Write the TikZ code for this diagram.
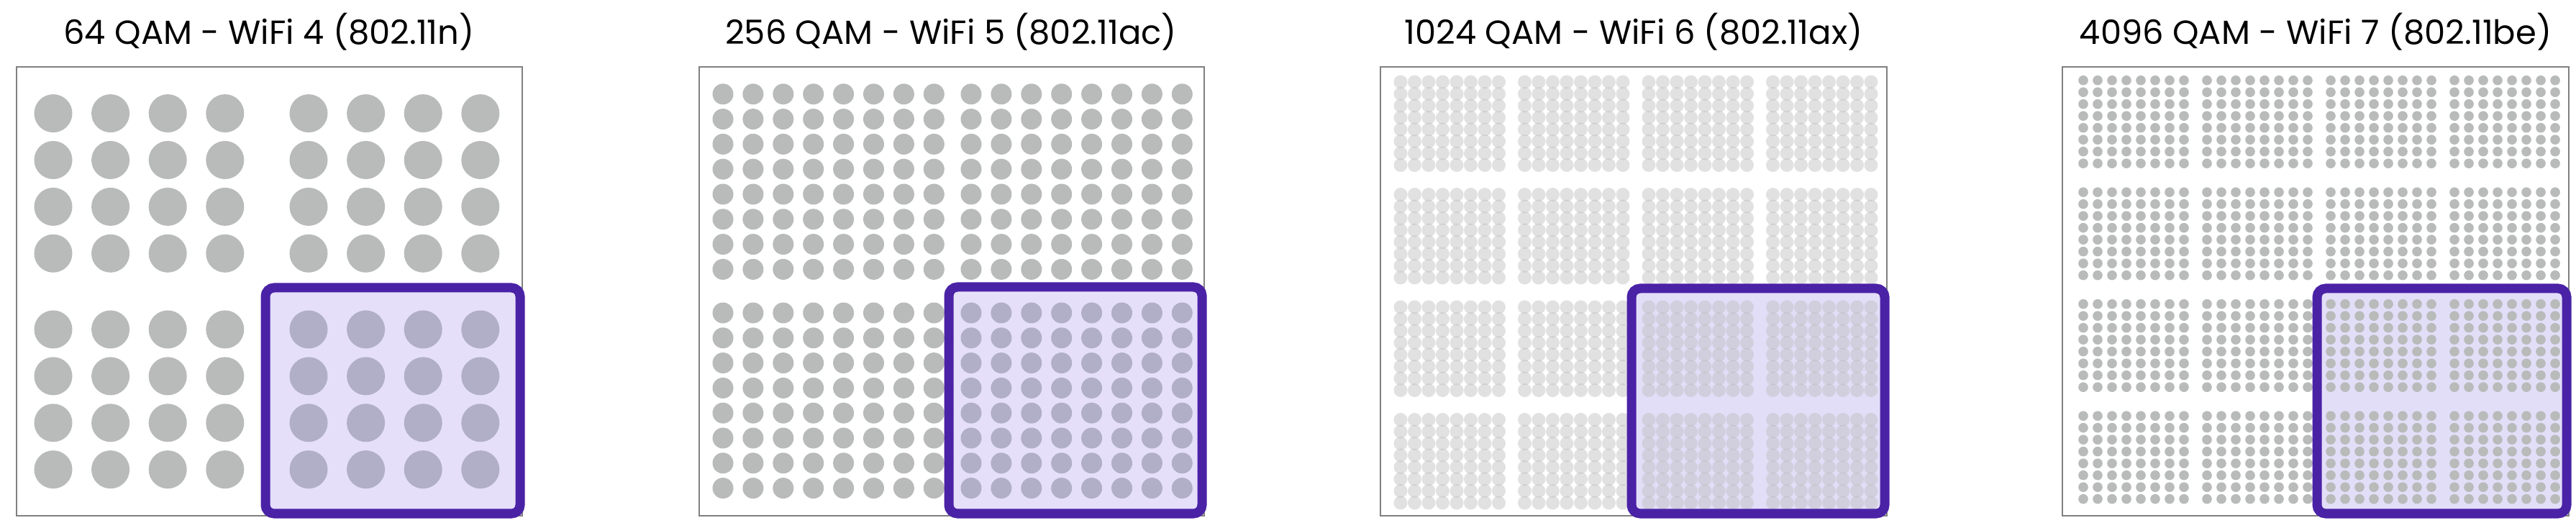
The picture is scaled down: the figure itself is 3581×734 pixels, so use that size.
\documentclass[tikz,border=0pt]{standalone}
\usepackage{fontspec}
\setmainfont{Poppins}
\definecolor{dotgray}{HTML}{B8BBBA}
\definecolor{blurgray}{HTML}{BDBEBE}
\definecolor{hlpurple}{HTML}{4A22A6}
\definecolor{hlfill}{HTML}{A08CF0}
\definecolor{hlsolid}{HTML}{E3DEF8}
\definecolor{framegray}{HTML}{808080}
\tikzset{
  frame/.style={draw=framegray, line width=0.02cm},
  hlborder/.style={draw=hlpurple, line width=0.13cm, rounded corners=0.12cm},
  title/.style={font=\fontsize{13.2pt}{15pt}\selectfont, text=black, inner sep=0pt}
}
\begin{document}
\begin{tikzpicture}[x=0.01cm,y=-0.01cm]
\useasboundingbox[fill=white] (0,0) rectangle (3581,734);
% titles
\node[title] (t1) at (374,44) {64 QAM - WiFi 4 (802.11n)};
\node[title] (t2) at (1322,44) {256 QAM - WiFi 5 (802.11ac)};
\node[title] (t3) at (2271,44) {1024 QAM - WiFi 6 (802.11ax)};
\node[title] (t4) at (3219,44) {4096 QAM - WiFi 7 (802.11be)};
% frames
\draw[frame] (23,93) rectangle (726,717);
\draw[frame] (972,93) rectangle (1674,717);
\draw[frame] (1919,93) rectangle (2623,717);
\draw[frame] (2867,93) rectangle (3571,717);
% panel 1
\foreach \qx in {74,429} \foreach \qy in {157.6,458} \foreach \i in {0,...,3} \foreach \j in {0,...,3}
  \fill[dotgray] ({\qx+79.6*\i},{\qy+64.9*\j}) circle[radius=0.265cm];
\fill[hlfill, fill opacity=0.27, rounded corners=0.12cm] (369,400) rectangle (723,714);
\draw[hlborder] (369,400) rectangle (723,714);
% panel 2
\foreach \qx in {1005,1350} \foreach \qy in {130.8,435} \foreach \i in {0,...,7} \foreach \j in {0,...,7}
  \fill[dotgray] ({\qx+41.9*\i},{\qy+34.8*\j}) circle[radius=0.145cm];
\fill[hlfill, fill opacity=0.27, rounded corners=0.12cm] (1319,399) rectangle (1671,714);
\draw[hlborder] (1319,399) rectangle (1671,714);
% panel 3 (blurred)
\fill[hlsolid, rounded corners=0.12cm] (2268,401) rectangle (2620,714);
\foreach \bx in {0,...,3} \foreach \by in {0,...,3} \foreach \i in {0,...,7} \foreach \j in {0,...,7}
  \fill[blurgray, fill opacity=0.45] ({1947+172.5*\bx+19.5*\i},{114+156.5*\by+16.5*\j}) circle[radius=0.095cm];
\draw[hlborder] (2268,401) rectangle (2620,714);
% panel 4
\fill[hlsolid, rounded corners=0.12cm] (3221,401) rectangle (3568,714);
\foreach \bx in {0,...,3} \foreach \by in {0,...,3} \foreach \i in {0,...,7} \foreach \j in {0,...,7}
  \fill[dotgray] ({2896+172*\bx+20*\i},{111.7+155.5*\by+16.5*\j}) circle[radius=0.068cm];
\draw[hlborder] (3221,401) rectangle (3568,714);
\end{tikzpicture}
\end{document}
